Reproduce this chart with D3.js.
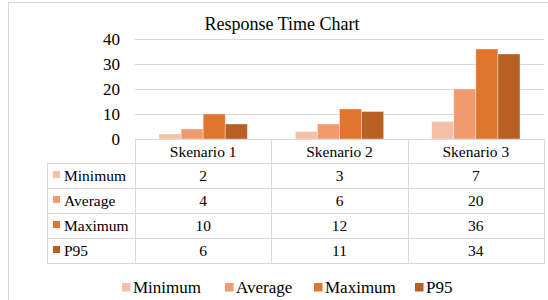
<!DOCTYPE html>
<html>
<head>
<meta charset="utf-8">
<script src="https://cdn.jsdelivr.net/npm/d3@7"></script>
<style>
  body { margin: 0; background: #fff; }
  svg text { font-family: "Liberation Serif", "DejaVu Serif", serif; }
</style>
</head>
<body>
<div id="chart"></div>
<script>
// datos
const categories = ['Skenario 1', 'Skenario 2', 'Skenario 3'];
const seriesNames = ['Minimum', 'Average', 'Maximum', 'P95'];
const minimum = [2, 3, 7];
const average = [4, 6, 20];
const maximum = [10, 12, 36];
const p95 = [6, 11, 34];
const yTicks = [0, 10, 20, 30, 40];
const colors = ['#f5c0a8', '#f09a6d', '#e0762e', '#b85f24'];

const values = [minimum, average, maximum, p95];

const width = 548, height = 300;
const margin = { top: 39, left: 135, right: 4 };
const plotBottom = 139;
const rowH = 25;
const headerH = 24;
const labelLeft = 47;
const serif = '"Liberation Serif", "DejaVu Serif", serif';

const svg = d3.select('#chart')
  .append('svg')
  .attr('width', width)
  .attr('height', height)
  .attr('font-family', serif);

// borde exterior
svg.append('rect')
  .attr('x', 8.5).attr('y', 2.5)
  .attr('width', 560).attr('height', 320)
  .attr('fill', 'none')
  .attr('stroke', '#d9d9d9');

// titulo
svg.append('text')
  .attr('x', 282).attr('y', 29.5)
  .attr('text-anchor', 'middle')
  .style('font-size', '18px')
  .attr('fill', '#000')
  .text('Response Time Chart');

const x0 = d3.scaleBand()
  .domain(categories)
  .range([margin.left, width - margin.right]);

const x1 = d3.scaleBand()
  .domain(seriesNames)
  .range([24, x0.bandwidth() - 24]);

const y = d3.scaleLinear()
  .domain([0, 40])
  .range([plotBottom, margin.top]);

// lineas de la grilla
svg.append('g')
  .selectAll('line')
  .data(yTicks.filter(d => d > 0))
  .join('line')
  .attr('x1', x0.range()[0]).attr('x2', x0.range()[1])
  .attr('y1', d => Math.round(y(d)) + 0.5)
  .attr('y2', d => Math.round(y(d)) + 0.5)
  .attr('stroke', '#d9d9d9')
  .attr('stroke-width', 1);

// etiquetas eje Y
svg.append('g')
  .selectAll('text')
  .data(yTicks)
  .join('text')
  .attr('x', 120)
  .attr('y', d => y(d))
  .attr('dy', '0.35em')
  .attr('text-anchor', 'end')
  .style('font-size', '17px')
  .attr('fill', '#000')
  .text(d => d);

// barras
const groups = svg.append('g')
  .selectAll('g')
  .data(categories)
  .join('g')
  .attr('transform', d => `translate(${x0(d)},0)`);

groups.selectAll('rect')
  .data((c, i) => seriesNames.map((s, j) => ({ s, j, v: values[j][i] })))
  .join('rect')
  .attr('x', d => x1(d.s))
  .attr('width', x1.bandwidth())
  .attr('y', d => y(d.v))
  .attr('height', d => y(0) - y(d.v))
  .attr('fill', d => colors[d.j])
  .attr('stroke', 'rgba(255,255,255,0.45)')
  .attr('stroke-width', 0.8);

// tabla de datos
const table = svg.append('g');
const tableRight = x0.range()[1];
const rowTop = plotBottom + headerH;
const tableBottom = rowTop + rowH * seriesNames.length;
const lineColor = '#d9d9d9';

// lineas horizontales
table.append('line')
  .attr('x1', margin.left).attr('x2', tableRight)
  .attr('y1', plotBottom + 0.5).attr('y2', plotBottom + 0.5)
  .attr('stroke', lineColor);
d3.range(seriesNames.length + 1).forEach(i => {
  table.append('line')
    .attr('x1', labelLeft).attr('x2', tableRight)
    .attr('y1', rowTop + i * rowH + 0.5).attr('y2', rowTop + i * rowH + 0.5)
    .attr('stroke', lineColor);
});
// lineas verticales
table.append('line')
  .attr('x1', labelLeft + 0.5).attr('x2', labelLeft + 0.5)
  .attr('y1', rowTop).attr('y2', tableBottom + 1)
  .attr('stroke', lineColor);
categories.concat(['end']).forEach((c, i) => {
  const xx = Math.round(margin.left + i * x0.bandwidth()) + 0.5;
  table.append('line')
    .attr('x1', xx).attr('x2', xx)
    .attr('y1', plotBottom).attr('y2', tableBottom + 1)
    .attr('stroke', lineColor);
});

// encabezados
table.selectAll('.hdr')
  .data(categories)
  .join('text')
  .attr('class', 'hdr')
  .attr('x', d => x0(d) + x0.bandwidth() / 2)
  .attr('y', plotBottom + headerH / 2 + 1)
  .attr('dy', '0.35em')
  .attr('text-anchor', 'middle')
  .style('font-size', '15.5px')
  .text(d => d);

// filas
seriesNames.forEach((s, j) => {
  const cy = rowTop + j * rowH + rowH / 2;
  table.append('rect')
    .attr('x', 53).attr('y', cy - 4.5)
    .attr('width', 7).attr('height', 7)
    .attr('fill', colors[j]);
  table.append('text')
    .attr('x', 64).attr('y', cy)
    .attr('dy', '0.35em')
    .style('font-size', '15.5px')
    .text(s);
  categories.forEach((c, i) => {
    table.append('text')
      .attr('x', x0(c) + x0.bandwidth() / 2)
      .attr('y', cy)
      .attr('dy', '0.35em')
      .attr('text-anchor', 'middle')
      .style('font-size', '15.5px')
      .text(values[j][i]);
  });
});

// leyenda
const legendX = [122, 225, 314, 415];
const legend = svg.append('g');
seriesNames.forEach((s, j) => {
  legend.append('rect')
    .attr('x', legendX[j]).attr('y', 283)
    .attr('width', 8.5).attr('height', 8.5)
    .attr('fill', colors[j]);
  legend.append('text')
    .attr('x', legendX[j] + 11)
    .attr('y', 293.3)
    .style('font-size', '17px')
    .text(s);
});
</script>
</body>
</html>
